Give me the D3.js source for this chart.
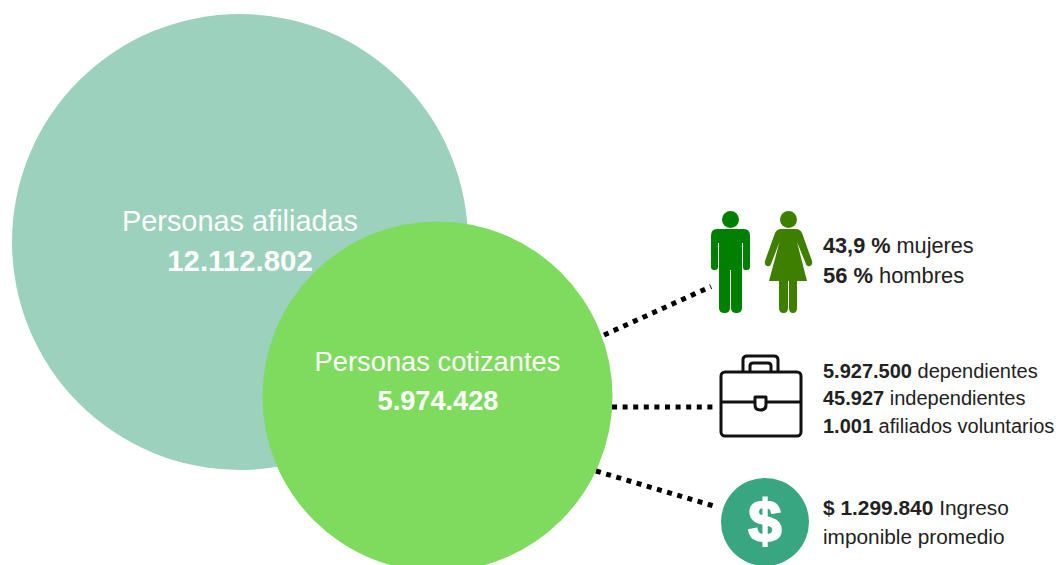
<!DOCTYPE html>
<html><head><meta charset="utf-8">
<script src="https://cdn.jsdelivr.net/npm/d3@7"></script>
<style>html,body{margin:0;padding:0;background:#fff}svg{display:block}text{font-family:"Liberation Sans",Arial,sans-serif}</style>
</head><body><svg id="c" width="1057" height="565"></svg>
<script>
const circleLabels = ["Personas afiliadas", "Personas cotizantes"];
const circleValues = [12112802, 5974428];
const circleValueLabels = ["12.112.802", "5.974.428"];
const circleColors = ["#9bd1bd", "#7fdb5e"];
const detailLines = [
  [["43,9 %", " mujeres"], ["56 %", " hombres"]],
  [["5.927.500", " dependientes"], ["45.927", " independientes"], ["1.001", " afiliados voluntarios"]],
  [["$ 1.299.840", " Ingreso"], ["", "imponible promedio"]]
];

const svg = d3.select("#c");
const r = d3.scaleLinear().domain([5974428, 12112802]).range([175, 228]);
const centers = [[240, 242], [437.5, 396.5]];
const labelY = [[231, 271], [371, 410]];
const labelSize = [28.9, 27.3];
const valueSize = [29.4, 27.2];

circleValues.forEach((v, i) => {
  svg.append("circle").attr("cx", centers[i][0]).attr("cy", centers[i][1]).attr("r", r(v)).attr("fill", circleColors[i]);
  svg.append("text").attr("x", centers[i][0]).attr("y", labelY[i][0]).attr("text-anchor", "middle")
    .attr("fill", "#fff").attr("font-size", labelSize[i]).text(circleLabels[i]);
  svg.append("text").attr("x", i ? 438 : 240).attr("y", labelY[i][1]).attr("text-anchor", "middle")
    .attr("fill", "#fff").attr("font-size", valueSize[i]).attr("font-weight", "bold").text(circleValueLabels[i]);
});

// connectors
[[604,335,711,286.5],[612,407,717.5,407],[596,471,717,507]].forEach(l => {
  svg.append("line").attr("x1", l[0]).attr("y1", l[1]).attr("x2", l[2]).attr("y2", l[3])
    .attr("stroke", "#000").attr("stroke-width", 5).attr("stroke-dasharray", "5 5.6");
});

// man
const man = svg.append("g").attr("fill", "#007f00");
man.append("circle").attr("cx", 730.5).attr("cy", 219.5).attr("r", 8.5);
man.append("path").attr("d", "M717 229H744Q750 229 750 236V267Q750 270 747 270H745Q743 270 743 267V243H742V308Q742 313 736.5 313Q731 313 731 308V270H730V308Q730 313 724.5 313Q719 313 719 308V243H718V267Q718 270 715 270H714Q711 270 711 267V236Q711 229 717 229Z");

// woman
const woman = svg.append("g").attr("fill", "#3f7f00");
woman.append("circle").attr("cx", 788.5).attr("cy", 219.5).attr("r", 8.5);
woman.append("path").attr("d", "M781 229H796Q800 229 802 233L812 261Q813 265 810 266Q807 267 806 264L797 242L807 281H797V308Q797 313 793 313Q789 313 789 308V281H788V308Q788 313 783.5 313Q779 313 779 308V281H769L779.5 242L771 264Q770 267 767 266Q764 265 765 261L775 233Q777 229 781 229Z");

// briefcase
const bag = svg.append("g").attr("fill", "none").attr("stroke", "#111").attr("stroke-width", 3).attr("stroke-linejoin", "round");
bag.append("rect").attr("x", 721).attr("y", 372).attr("width", 80).attr("height", 64).attr("rx", 4);
bag.append("path").attr("d", "M721 402H754M767 402H801");
bag.append("path").attr("d", "M743 371V360Q743 356 747 356H774Q778 356 778 360V371");
bag.append("path").attr("d", "M750 371V366Q750 363 753 363H768Q771 363 771 366V371");
bag.append("path").attr("d", "M755 397H766V405Q766 410 760.5 410Q755 410 755 405Z");

// dollar
svg.append("circle").attr("cx", 765).attr("cy", 522).attr("r", 44).attr("fill", "#38a680");
svg.append("text").attr("x", 765).attr("y", 542).attr("text-anchor", "middle").attr("fill", "#fff")
  .attr("font-size", 60).attr("font-weight", "bold").attr("stroke", "#fff").attr("stroke-width", 2).text("$");

// detail text
const baselines = [[253, 283], [378, 405, 433], [515, 544]];
const detailSizes = [[21.7, 21.9], [20, 20, 20], [20.9, 20.8]];
detailLines.forEach((group, g) => group.forEach((parts, i) => {
  const t = svg.append("text").attr("x", 823).attr("y", baselines[g][i]).attr("font-size", detailSizes[g][i]).attr("fill", "#222");
  if (parts[0]) t.append("tspan").attr("font-weight", "bold").text(parts[0]);
  t.append("tspan").attr("xml:space", "preserve").text(parts[1]);
}));
</script></body></html>
